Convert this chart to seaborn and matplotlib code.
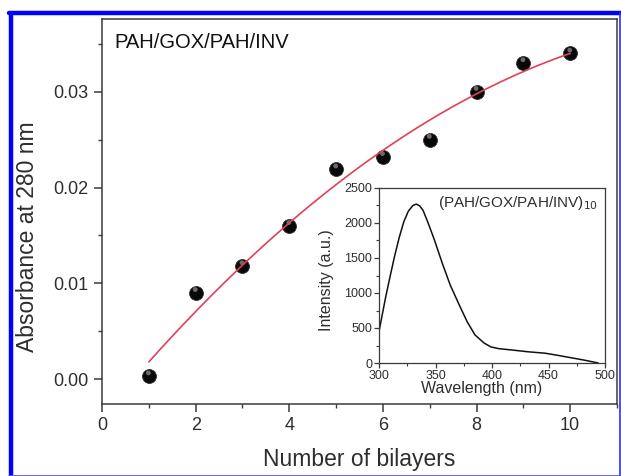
import numpy as np
import pandas as pd
import matplotlib
matplotlib.use("Agg")
import matplotlib.pyplot as plt
import matplotlib.transforms as mtransforms
from matplotlib.ticker import MultipleLocator
from matplotlib.lines import Line2D
import seaborn as sns

# ---- data ----
bilayers = [1, 2, 3, 4, 5, 6, 7, 8, 9, 10]
absorbance = [0.0003, 0.0090, 0.0118, 0.0160, 0.0219, 0.0232, 0.0250, 0.0300, 0.0330, 0.0340]

wavelength = [300, 306, 310, 314, 318, 322, 326, 330, 333, 336, 339, 343, 349, 356, 363, 371, 378,
              385, 393, 399, 406, 418, 432, 447, 458, 470, 482, 494]
intensity = [450, 950, 1250, 1540, 1800, 2020, 2170, 2250, 2270, 2245, 2180, 2020, 1760, 1425, 1115,
             830, 590, 400, 285, 230, 205, 185, 160, 140, 110, 75, 40, 0]

main_title = "PAH/GOX/PAH/INV"
inset_title = "(PAH/GOX/PAH/INV)$_{10}$"
xlabel_main = "Number of bilayers"
ylabel_main = "Absorbance at 280 nm"
xlabel_inset = "Wavelength (nm)"
ylabel_inset = "Intensity (a.u.)"

# ---- style ----
sns.set_theme(style="ticks")
plt.rcParams["font.family"] = ["Liberation Sans", "DejaVu Sans"]
TXT = "#2e2e2e"
SP = "#3a3a3a"
plt.rcParams.update({
    "text.color": TXT, "axes.labelcolor": TXT,
    "xtick.color": SP, "ytick.color": SP,
    "xtick.labelcolor": TXT, "ytick.labelcolor": TXT,
    "axes.edgecolor": SP, "axes.linewidth": 1.1,
    "xtick.direction": "out", "ytick.direction": "out",
})

fig = plt.figure(figsize=(6.21, 4.76), dpi=100)
ax = fig.add_axes([102/621, 1-404/476, (617-102)/621, (404-19)/476])

df = pd.DataFrame({"x": bilayers, "y": absorbance})
coef = np.polyfit(df["x"], df["y"], 2)
xf = np.linspace(min(bilayers), max(bilayers), 200)
fit = pd.DataFrame({"x": xf, "y": np.polyval(coef, xf)})

sns.scatterplot(data=df, x="x", y="y", ax=ax, s=100, color="#080808",
                edgecolor="#303030", linewidth=0.6, zorder=3, legend=False)
hl = mtransforms.offset_copy(ax.transData, fig=fig, x=-0.3, y=2.4, units="points")
sns.scatterplot(data=df, x="x", y="y", ax=ax, s=12, color="#8c8c8c",
                edgecolor="none", alpha=0.75, zorder=4, transform=hl, legend=False)
sns.lineplot(data=fit, x="x", y="y", ax=ax, color="#e0405a", lw=1.2, zorder=5)

ax.set_xlim(0, 11)
ax.set_ylim(-0.0026, 0.0376)
ax.xaxis.set_major_locator(MultipleLocator(2))
ax.xaxis.set_minor_locator(MultipleLocator(1))
ax.yaxis.set_major_locator(MultipleLocator(0.01))
ax.yaxis.set_minor_locator(MultipleLocator(0.005))
ax.yaxis.set_major_formatter(matplotlib.ticker.FormatStrFormatter("%.2f"))
ax.tick_params(which="major", length=5.5, width=1.1, labelsize=13, pad=4)
ax.tick_params(which="minor", length=3, width=1.0)
ax.set_xlabel(xlabel_main, fontsize=16.5)
ax.set_ylabel(ylabel_main, fontsize=16.5)
ax.xaxis.set_label_coords(0.5, -0.115)
ax.yaxis.set_label_coords(-0.122, 0.435)
ax.text(0.025, 0.938, main_title, transform=ax.transAxes, fontsize=14.5,
        ha="left", va="center", color="#111111")

# ---- inset ----
axi = fig.add_axes([379/621, 1-363/476, (605-379)/621, (363-188)/476])
spec = pd.DataFrame({"wl": wavelength, "I": intensity})
sns.lineplot(data=spec, x="wl", y="I", ax=axi, color="#111111", lw=1.1)
axi.set_xlim(300, 500)
axi.set_ylim(0, 2500)
axi.xaxis.set_major_locator(MultipleLocator(50))
axi.xaxis.set_minor_locator(MultipleLocator(25))
axi.yaxis.set_major_locator(MultipleLocator(500))
axi.yaxis.set_minor_locator(MultipleLocator(250))
axi.tick_params(which="major", length=3.5, width=0.9, labelsize=9, pad=1.5)
axi.tick_params(which="minor", length=2, width=0.8)
for s in axi.spines.values():
    s.set_linewidth(0.9)
axi.set_xlabel(xlabel_inset, fontsize=11.5)
axi.set_ylabel(ylabel_inset, fontsize=11.5)
axi.xaxis.set_label_coords(0.456, -0.105)
axi.yaxis.set_label_coords(-0.2, 0.474)
axi.text(0.26, 0.915, inset_title, transform=axi.transAxes, fontsize=11,
         ha="left", va="center")

# ---- blue frame ----
fig.add_artist(Line2D([11/621, 11/621], [1-475/476, 1-13/476], color="#0000ff",
                      lw=3.2, transform=fig.transFigure))
fig.add_artist(Line2D([9/621, 1.0], [1-13/476, 1-13/476], color="#0000ff",
                      lw=3.2, transform=fig.transFigure))
fig.add_artist(Line2D([9/621, 1.0], [1-475.5/476, 1-475.5/476], color="#5050e8",
                      lw=1.2, transform=fig.transFigure))
fig.add_artist(Line2D([620/621, 620/621], [1-475/476, 1-13/476], color="#3030f0",
                      lw=1.2, transform=fig.transFigure))

fig.savefig("out.png", dpi=100)
